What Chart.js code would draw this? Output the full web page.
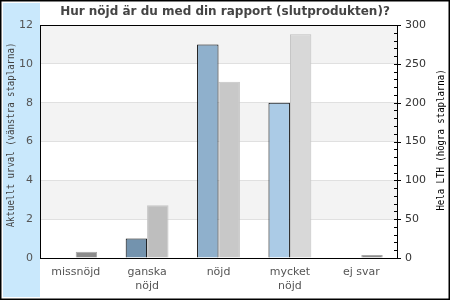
<!DOCTYPE html>
<html>
<head>
<meta charset="utf-8">
<script src="https://cdn.jsdelivr.net/npm/chart.js@4.4.0/dist/chart.umd.min.js"></script>
<style>
    body { margin: 0; background: #fff; }
    canvas { display: block; }
</style>
</head>
<body>
<canvas id="nojdChart" width="450" height="300"></canvas>
<script>
// Data
var categories = ['missnöjd', ['ganska', 'nöjd'], 'nöjd', ['mycket', 'nöjd'], 'ej svar'];
var urvalValues = [0, 1, 11, 8, 0];       // left axis
var lthValues = [8, 68, 227, 288, 4];     // right axis
var leftTicks = [0, 2, 4, 6, 8, 10, 12];
var rightTicks = [0, 50, 100, 150, 200, 250, 300];
var leftTitle = 'Aktuellt urval (vänstra staplarna)';
var rightTitle = 'Hela LTH (högra staplarna)';

var urvalColors = ['#7393ae', '#7393ae', '#8fb0cc', '#abcbe6', '#abcbe6'];
var lthColors = ['#8c8c8c', '#bebebe', '#c8c8c8', '#d8d8d8', '#8c8c8c'];
var lthBorders = ['#a8a8a8', '#c4c4c4', '#c4c4c4', '#c0c0c0', '#a8a8a8'];

// vertical, narrow monospace axis title reading bottom to top
function drawAxisTitle(ctx, text, x, y, color) {
    ctx.save();
    ctx.translate(x, y);
    ctx.rotate(-Math.PI / 2);
    ctx.scale(0.82, 1);
    ctx.font = '11px "DejaVu Sans Mono"';
    ctx.fillStyle = color;
    ctx.textAlign = 'center';
    ctx.textBaseline = 'alphabetic';
    ctx.fillText(text, 0, 0);
    ctx.restore();
}

// Background, blue strip, alternating bands
var backdrop = {
    id: 'backdrop',
    beforeDraw: function (chart) {
        var ctx = chart.ctx;
        var area = chart.chartArea;
        var y = chart.scales.y;
        ctx.save();
        ctx.fillStyle = '#ffffff';
        ctx.fillRect(0, 0, chart.width, chart.height);
        ctx.fillStyle = '#c9e8fc';
        ctx.fillRect(3, 3, area.left - 3, chart.height - 6);
        ctx.fillStyle = '#f3f3f3';
        [[2, 4], [6, 8], [10, 12]].forEach(function (b) {
            var top = y.getPixelForValue(b[1]);
            var bottom = y.getPixelForValue(b[0]);
            ctx.fillRect(area.left, top, area.right - area.left, bottom - top);
        });
        ctx.restore();
    },
    afterDraw: function (chart) {
        var ctx = chart.ctx;
        var area = chart.chartArea;
        var y1 = chart.scales.y1;
        ctx.save();
        ctx.strokeStyle = '#000';
        ctx.lineWidth = 1;
        ctx.strokeRect(area.left + 0.5, area.top + 0.5, area.right - area.left, area.bottom - area.top);
        // inward minor ticks on right axis
        for (var v = 0; v <= 300; v += 10) {
            var py = Math.round(y1.getPixelForValue(v)) + 0.5;
            ctx.beginPath();
            ctx.moveTo(area.right - 3, py);
            ctx.lineTo(v % 50 === 0 ? area.right + 4 : area.right, py);
            ctx.stroke();
        }
        ctx.lineWidth = 1.5;
        ctx.strokeRect(0.75, 0.75, chart.width - 1.5, chart.height - 1.5);
        ctx.restore();

        drawAxisTitle(ctx, leftTitle, 13.5, 135, '#444');
        drawAxisTitle(ctx, rightTitle, 444, 140, '#000');
    }
};

var ctx = document.getElementById('nojdChart').getContext('2d');
var chart = new Chart(ctx, {
    type: 'bar',
    data: {
        labels: categories,
        datasets: [{
            label: 'Aktuellt urval',
            data: urvalValues,
            yAxisID: 'y',
            backgroundColor: urvalColors,
            borderColor: '#000',
            borderWidth: 1,
            categoryPercentage: 0.6,
            barPercentage: 1.0
        }, {
            label: 'Hela LTH',
            data: lthValues,
            yAxisID: 'y1',
            backgroundColor: lthColors,
            borderColor: lthBorders,
            borderWidth: 1,
            categoryPercentage: 0.6,
            barPercentage: 1.0
        }]
    },
    options: {
        responsive: false,
        animation: false,
        layout: { padding: 0 },
        plugins: {
            legend: { display: false },
            tooltip: { enabled: false },
            title: {
                display: true,
                text: 'Hur nöjd är du med din rapport (slutprodukten)?',
                color: '#444',
                font: { family: 'DejaVu Sans', size: 12, weight: 'bold' },
                padding: { top: 5, bottom: 5.6 }
            }
        },
        scales: {
            x: {
                afterFit: function (s) { s.height = 42; },
                grid: { display: false, drawTicks: false },
                border: { color: '#000' },
                ticks: {
                    autoSkip: false,
                    maxRotation: 0,
                    padding: 8,
                    color: '#555',
                    font: { family: 'DejaVu Sans', size: 11 }
                }
            },
            y: {
                position: 'left',
                min: 0,
                max: 12,
                afterFit: function (s) { s.width = 40; },
                afterBuildTicks: function (s) {
                    s.ticks = leftTicks.map(function (v) { return { value: v }; });
                },
                grid: { color: '#e0e0e0', drawTicks: false },
                border: { color: '#000' },
                ticks: {
                    padding: 7,
                    color: '#555',
                    font: { family: 'DejaVu Sans', size: 11 }
                }
            },
            y1: {
                position: 'right',
                min: 0,
                max: 300,
                afterFit: function (s) { s.width = 53; },
                afterBuildTicks: function (s) {
                    s.ticks = rightTicks.map(function (v) { return { value: v }; });
                },
                grid: { drawOnChartArea: false, drawTicks: false },
                border: { color: '#000' },
                ticks: {
                    padding: 8,
                    color: '#333',
                    font: { family: 'DejaVu Sans', size: 11 }
                }
            }
        }
    },
    plugins: [backdrop]
});
</script>
</body>
</html>
